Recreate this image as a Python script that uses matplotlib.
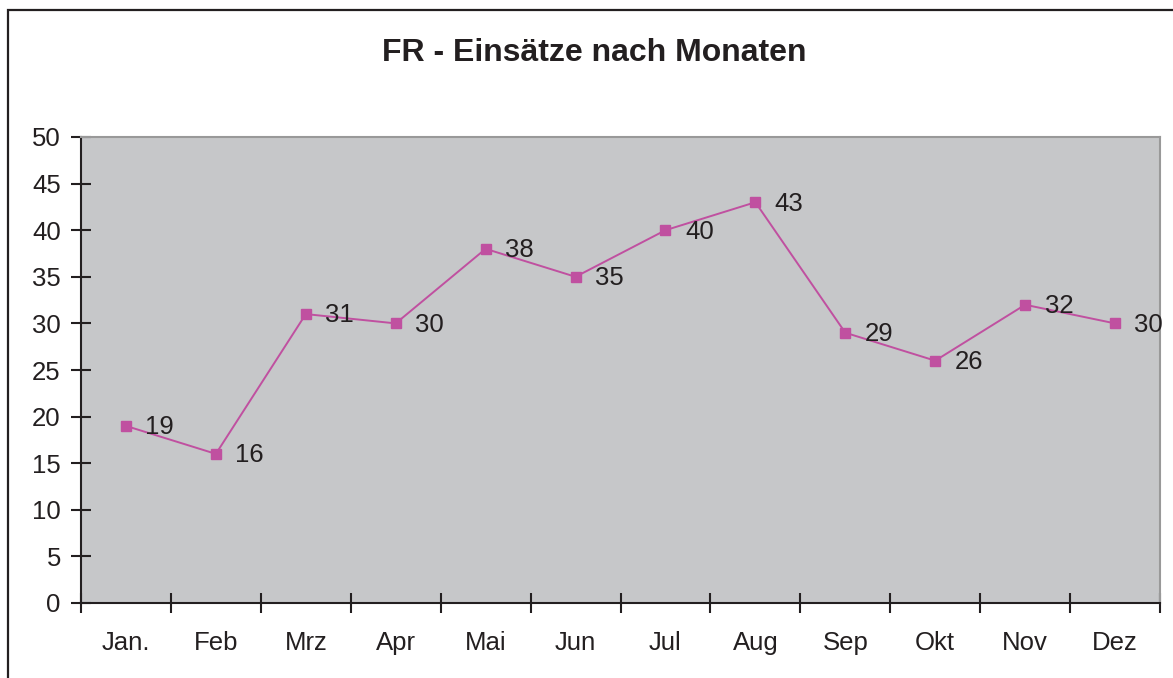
import matplotlib.pyplot as plt
from matplotlib.patches import Rectangle

plt.rcParams['font.family'] = ['Liberation Sans', 'DejaVu Sans']

months = ['Jan.', 'Feb', 'Mrz', 'Apr', 'Mai', 'Jun', 'Jul', 'Aug', 'Sep', 'Okt', 'Nov', 'Dez']
einsaetze = [19, 16, 31, 30, 38, 35, 40, 43, 29, 26, 32, 30]
yticks = [0, 5, 10, 15, 20, 25, 30, 35, 40, 45, 50]

TEXT = '#231f20'
LINE = '#c050a0'
FS = 18.5

fig = plt.figure(figsize=(11.73, 6.78), dpi=100)
ax = fig.add_axes([81 / 1173, 1 - 603 / 678, (1160 - 81) / 1173, (603 - 137) / 678])

x = list(range(len(months)))
ax.plot(x, einsaetze, color=LINE, lw=1.4, marker='s', markersize=7.5,
        markerfacecolor=LINE, markeredgecolor=LINE, zorder=3)
for xi, v in zip(x, einsaetze):
    ax.annotate(str(v), (xi, v), xytext=(14, -1), textcoords='offset points',
                va='center', ha='left', fontsize=FS, color=TEXT)

ax.set_facecolor('#c6c7c9')
ax.set_xlim(-0.5, len(months) - 0.5)
ax.set_ylim(0, 50)
ax.set_yticks(yticks)
ax.set_xticks([i - 0.5 for i in range(len(months) + 1)])
ax.set_xticklabels([])
ax.set_xticks(x, minor=True)
ax.set_xticklabels(months, minor=True)
ax.tick_params(axis='x', which='minor', length=0, pad=20, labelsize=FS, labelcolor=TEXT)
ax.tick_params(axis='x', which='major', direction='inout', length=15, width=1.5, color=TEXT)
ax.tick_params(axis='y', direction='inout', length=15, width=1.5, color=TEXT,
               labelsize=FS, labelcolor=TEXT, pad=7)

for side in ['top', 'right']:
    ax.spines[side].set_color('#999999')
    ax.spines[side].set_linewidth(1.5)
for side in ['left', 'bottom']:
    ax.spines[side].set_color(TEXT)
    ax.spines[side].set_linewidth(1.5)

fig.text(594 / 1173, 1 - 53 / 678, 'FR - Einsätze nach Monaten', ha='center', va='center',
         fontsize=23, fontweight='bold', color=TEXT)

# outer frame of the chart
fig.patches.append(Rectangle((8 / 1173, -0.05), 1.1, 1.05 - 10 / 678,
                             transform=fig.transFigure, fill=False,
                             edgecolor=TEXT, lw=1.6))

fig.savefig('out.png', dpi=100)
